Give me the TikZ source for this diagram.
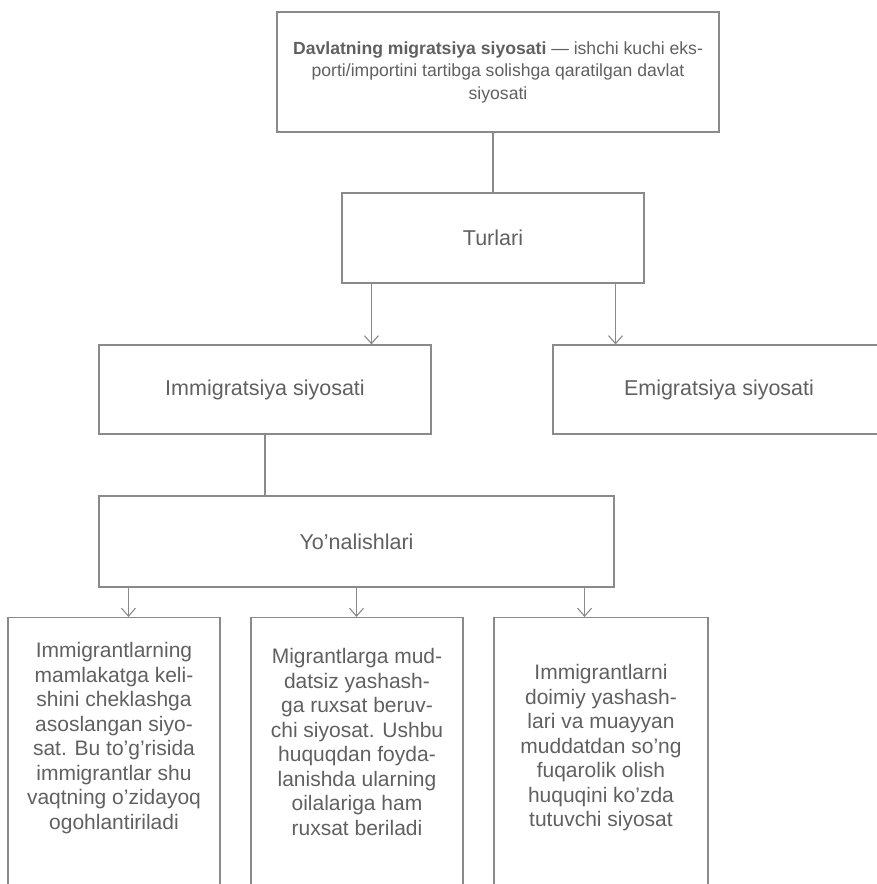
\documentclass[tikz,border=0pt]{standalone}
\usepackage{fontspec}
\setmainfont{Liberation Sans}
\usetikzlibrary{arrows.meta}
\definecolor{ln}{HTML}{8A8A8A}
\definecolor{tx}{HTML}{606060}
\begin{document}
\begin{tikzpicture}[x=1pt,y=-1pt,
  box/.style={draw=ln, line width=1.1pt, rectangle, inner sep=0pt, text=tx, align=center},
  midtext/.style={font=\fontsize{21.5}{26}\selectfont},
  toptext/.style={font=\fontsize{17.6}{22.5}\selectfont},
  bottext/.style={text=tx, align=center, inner sep=0pt, font=\fontsize{21}{24.5}\selectfont},
  con/.style={draw=ln, line width=1.1pt},
  arr/.style={con, -{Straight Barb[length=8pt,width=14pt,line width=1.1pt]}}
]
\useasboundingbox (0,0) rectangle (877,884);

\node[box, toptext, minimum width=442pt, minimum height=120pt] (top) at (498,72)
  {\textbf{Davlatning migratsiya siyosati} — ishchi kuchi eks-\\
   porti/importini tartibga solishga qaratilgan davlat\\
   siyosati};

\node[box, midtext, minimum width=302pt, minimum height=90pt] (tur) at (493,238) {Turlari};

\node[box, midtext, minimum width=332pt, minimum height=89pt] (imm) at (265,389.5) {Immigratsiya siyosati};
\node[box, midtext, minimum width=332pt, minimum height=89pt] (emi) at (719,389.5) {Emigratsiya siyosati};

\node[box, midtext, minimum width=515pt, minimum height=91pt] (yon) at (356.5,541.5) {Yo’nalishlari};

\node[box, anchor=north, minimum width=212pt, minimum height=290pt] (b1) at (114,617) {};
\node[box, anchor=north, minimum width=212pt, minimum height=290pt] (b2) at (357,617) {};
\node[box, anchor=north, minimum width=214pt, minimum height=290pt] (b3) at (601,617) {};

\node[bottext] (t1) at ([yshift=-121pt]b1.north)
  {Immigrantlarning\\ mamlakatga keli-\\ shini cheklashga\\ asoslangan siyo-\\ sat. Bu to’g’risida\\ immigrantlar shu\\ vaqtning o’zidayoq\\ ogohlantiriladi};
\node[bottext] (t2) at ([yshift=-125pt]b2.north)
  {Migrantlarga mud-\\ datsiz yashash-\\ ga ruxsat beruv-\\ chi siyosat. Ushbu\\ huquqdan foyda-\\ lanishda ularning\\ oilalariga ham\\ ruxsat beriladi};
\node[bottext] (t3) at ([yshift=-131pt]b3.north)
  {Immigrantlarni\\ doimiy yashash-\\ lari va muayyan\\ muddatdan so’ng\\ fuqarolik olish\\ huquqini ko’zda\\ tutuvchi siyosat};

\draw[con] (tur.north |- top.south) -- (tur.north);
\draw[arr] ([xshift=30pt]tur.south west) -- ([xshift=30pt]tur.south west |- imm.north);
\draw[arr] ([xshift=-29pt]tur.south east) -- ([xshift=-29pt]tur.south east |- emi.north);
\draw[con] (imm.south) -- (imm.south |- yon.north);
\draw[arr] ([xshift=30pt]yon.south west) -- ([xshift=30pt]yon.south west |- b1.north);
\draw[arr] (yon.south) -- (yon.south |- b2.north);
\draw[arr] ([xshift=-30pt]yon.south east) -- ([xshift=-30pt]yon.south east |- b3.north);
\end{tikzpicture}
\end{document}
